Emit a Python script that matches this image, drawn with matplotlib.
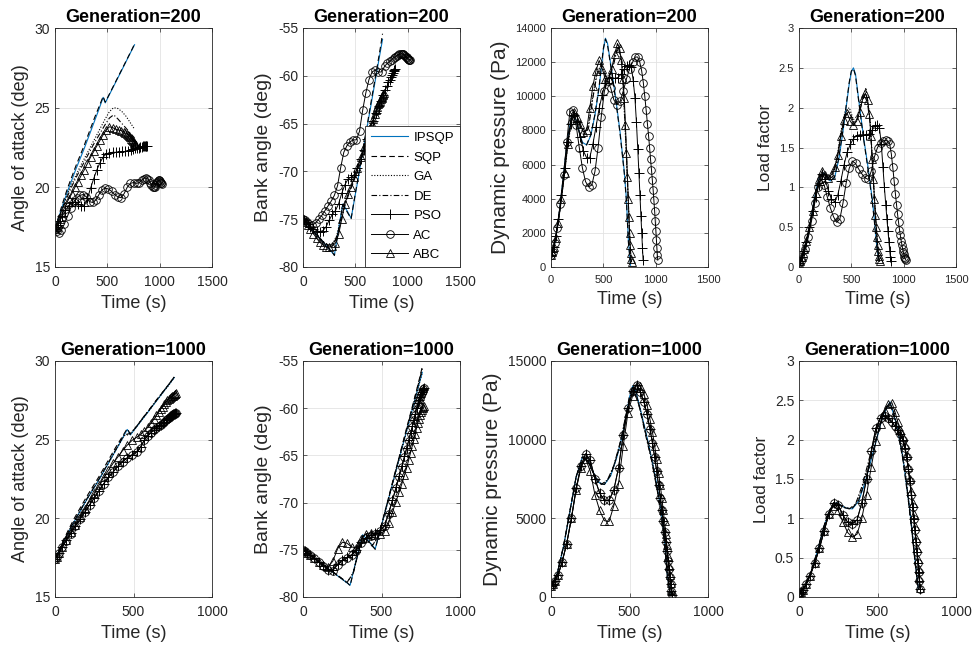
import matplotlib
matplotlib.use('Agg')
import matplotlib.pyplot as plt
from matplotlib.ticker import FuncFormatter

plt.rcParams['font.family'] = ['Liberation Sans', 'DejaVu Sans']

# ---------------- data ----------------
# IPSQP / SQP
t_ipsqp = [0, 40, 80, 120, 160, 200, 240, 280, 300, 340, 380, 420, 460, 480, 500, 520, 540, 580, 620, 660, 700, 720, 740, 760]
ipsqp_aoa = [17.4, 18.2, 19.0, 19.75, 20.45, 21.15, 21.8, 22.45, 22.8, 23.5, 24.2, 24.9, 25.65, 25.3, 25.56, 25.82, 26.08, 26.6, 27.12, 27.64, 28.17, 28.43, 28.69, 28.95]
ipsqp_bank = [-75.0, -75.5, -76.0, -76.5, -77.0, -77.5, -78.0, -78.5, -78.75, -76.0, -73.4, -74.1, -74.9, -73.65, -72.4, -71.2, -69.9, -67.4, -64.9, -62.4, -59.9, -58.65, -57.4, -56.2]
ipsqp_q = [600, 1500, 3200, 5400, 7600, 8900, 8600, 7700, 7300, 7150, 7700, 8900, 10500, 11600, 12700, 13400, 13100, 11500, 9800, 7900, 5600, 4000, 1500, 100]
ipsqp_n = [0.05, 0.15, 0.35, 0.65, 0.95, 1.15, 1.18, 1.1, 1.08, 1.12, 1.35, 1.7, 2.1, 2.3, 2.45, 2.5, 2.42, 2.0, 1.6, 1.25, 0.85, 0.6, 0.3, 0.1]
ipsqp_n_1000 = [0.05, 0.14, 0.33, 0.6, 0.9, 1.12, 1.2, 1.15, 1.13, 1.12, 1.22, 1.45, 1.75, 1.9, 2.05, 2.2, 2.33, 2.48, 2.2, 1.8, 1.2, 0.85, 0.45, 0.1]

sqp_aoa = [17.4, 18.3, 19.15, 19.95, 20.65, 21.35, 22.0, 22.65, 23.0, 23.7, 24.4, 25.05, 25.7, 25.35, 25.6, 25.86, 26.12, 26.64, 27.16, 27.68, 28.2, 28.46, 28.72, 29.0]
sqp_bank = [-75.0, -75.45, -75.95, -76.45, -76.95, -77.45, -77.95, -78.45, -78.8, -76.1, -73.5, -74.2, -74.95, -73.6, -72.3, -71.05, -69.8, -67.2, -64.7, -62.1, -59.6, -58.3, -57.0, -55.6]
sqp_q = [600, 1500, 3250, 5450, 7650, 8900, 8550, 7650, 7250, 7150, 7750, 8950, 10600, 11700, 12800, 13350, 13000, 11400, 9700, 7800, 5500, 3900, 1400, 100]
sqp_n = [0.05, 0.15, 0.36, 0.66, 0.96, 1.15, 1.17, 1.1, 1.08, 1.13, 1.37, 1.72, 2.12, 2.32, 2.46, 2.49, 2.4, 1.98, 1.58, 1.22, 0.82, 0.57, 0.28, 0.09]
sqp_n_1000 = [0.05, 0.14, 0.34, 0.61, 0.91, 1.12, 1.19, 1.15, 1.13, 1.13, 1.23, 1.47, 1.77, 1.92, 2.07, 2.22, 2.35, 2.47, 2.18, 1.77, 1.17, 0.82, 0.42, 0.09]

# GA / DE
t_ga = [0, 40, 80, 120, 160, 200, 240, 280, 320, 360, 400, 440, 480, 520, 560, 600, 640, 680, 720, 760]
ga200_aoa = [17.4, 18.15, 18.9, 19.6, 20.2, 20.75, 21.3, 21.8, 22.3, 22.8, 23.3, 23.8, 24.3, 24.75, 25.0, 24.95, 24.75, 24.45, 24.05, 23.65]
de200_aoa = [17.4, 18.1, 18.8, 19.45, 20.05, 20.6, 21.1, 21.6, 22.1, 22.6, 23.05, 23.5, 23.95, 24.35, 24.55, 24.3, 24.0, 23.7, 23.4, 23.1]
ga200_bank = [-75.0, -75.5, -76.1, -76.7, -77.2, -77.6, -77.8, -77.6, -76.8, -75.0, -73.2, -72.0, -71.0, -69.8, -68.5, -67.2, -66.0, -64.8, -63.8, -62.8]
de200_bank = [-75.0, -75.4, -75.9, -76.5, -77.0, -77.4, -77.7, -77.7, -77.0, -75.4, -73.6, -72.3, -71.2, -70.0, -68.8, -67.5, -66.3, -65.1, -64.0, -63.0]
ga200_q = [700, 1600, 3100, 5000, 7100, 8700, 8900, 8300, 7800, 8400, 10000, 11400, 11800, 11300, 11200, 12000, 12900, 11800, 6500, 500]
de200_q = [700, 1600, 3100, 5100, 7200, 8800, 9000, 8200, 7600, 8200, 9900, 11300, 11900, 11200, 11100, 11900, 13000, 12000, 6800, 400]
ga200_n = [0.05, 0.18, 0.4, 0.65, 0.92, 1.12, 1.18, 1.12, 1.15, 1.35, 1.7, 1.95, 2.0, 1.85, 1.9, 2.1, 2.25, 1.85, 0.9, 0.1]
de200_n = [0.05, 0.17, 0.39, 0.64, 0.91, 1.11, 1.17, 1.11, 1.13, 1.32, 1.66, 1.9, 1.96, 1.82, 1.86, 2.06, 2.2, 1.8, 0.85, 0.08]

ga1000_aoa = [17.4, 18.2, 19.0, 19.75, 20.45, 21.15, 21.8, 22.45, 23.15, 23.85, 24.55, 25.25, 25.35, 25.82, 26.35, 26.85, 27.4, 27.9, 28.4, 28.95]
de1000_aoa = [17.4, 18.25, 19.05, 19.8, 20.5, 21.2, 21.85, 22.5, 23.2, 23.9, 24.6, 25.3, 25.4, 25.85, 26.4, 26.9, 27.45, 27.95, 28.45, 29.0]
ga1000_bank = [-75.0, -75.5, -76.0, -76.5, -77.0, -77.5, -78.0, -78.5, -77.4, -74.7, -73.75, -74.5, -73.65, -71.2, -68.7, -66.2, -63.7, -61.2, -58.7, -56.2]
de1000_bank = [-75.0, -75.45, -75.95, -76.45, -76.95, -77.45, -77.95, -78.45, -77.5, -74.8, -73.8, -74.6, -73.6, -71.1, -68.6, -66.0, -63.5, -61.0, -58.4, -55.8]
ga1000_q = [600, 1500, 3200, 5400, 7600, 8900, 8600, 7700, 7150, 7400, 8300, 9700, 11600, 13400, 12300, 10500, 8800, 6700, 3800, 100]
de1000_q = [600, 1500, 3250, 5450, 7650, 8900, 8550, 7650, 7150, 7450, 8350, 9800, 11700, 13350, 12200, 10400, 8700, 6600, 3700, 100]
ga1000_n = [0.05, 0.14, 0.33, 0.6, 0.9, 1.12, 1.2, 1.15, 1.12, 1.17, 1.38, 1.68, 2.0, 2.28, 2.42, 2.4, 2.05, 1.55, 0.85, 0.1]
de1000_n = [0.05, 0.14, 0.34, 0.61, 0.91, 1.12, 1.19, 1.14, 1.12, 1.18, 1.4, 1.7, 2.02, 2.3, 2.43, 2.38, 2.02, 1.52, 0.82, 0.09]

# PSO / AC / ABC, Generation=200
t_pso200 = [0, 10, 25, 45, 70, 100, 130, 160, 190, 220, 250, 280, 310, 340, 370, 400, 430, 460, 490, 520, 550, 580, 610, 640, 670, 700, 725, 748, 768, 786, 802, 816, 829, 840, 850, 859, 867, 874, 880]
pso200_aoa = [17.4, 17.5, 17.65, 17.9, 18.2, 18.55, 18.85, 19.05, 19.05, 18.95, 18.85, 18.85, 19.3, 19.95, 20.55, 21.1, 21.55, 21.9, 22.1, 22.15, 22.2, 22.2, 22.2, 22.25, 22.25, 22.3, 22.35, 22.4, 22.45, 22.5, 22.5, 22.55, 22.55, 22.6, 22.6, 22.6, 22.6, 22.6, 22.6]
pso200_bank = [-75.0, -75.1, -75.25, -75.5, -75.8, -76.0, -76.2, -76.3, -76.2, -75.8, -75.1, -74.5, -74.1, -73.4, -72.3, -71.4, -70.8, -70.6, -70.4, -69.6, -68.7, -67.8, -66.6, -65.6, -64.7, -63.9, -63.2, -62.6, -62.0, -61.5, -61.1, -60.7, -60.4, -60.1, -59.9, -59.7, -59.5, -59.4, -59.3]
pso200_q = [700, 850, 1200, 1800, 2800, 4200, 5800, 7300, 8400, 8900, 8500, 7600, 6800, 6400, 6400, 7200, 8200, 9300, 10100, 10800, 11100, 11100, 11050, 11100, 11300, 11600, 11800, 11850, 11700, 10900, 9900, 8500, 6900, 5500, 4200, 3000, 2000, 1100, 400]
pso200_n = [0.05, 0.07, 0.12, 0.2, 0.32, 0.5, 0.7, 0.88, 1.03, 1.17, 1.1, 0.96, 0.85, 0.82, 0.9, 1.08, 1.28, 1.44, 1.54, 1.61, 1.65, 1.66, 1.66, 1.66, 1.67, 1.72, 1.77, 1.78, 1.75, 1.55, 1.25, 1.0, 0.78, 0.6, 0.45, 0.32, 0.2, 0.12, 0.08]

t_ac200 = [0, 15, 35, 60, 90, 120, 150, 180, 210, 240, 270, 300, 330, 360, 390, 420, 450, 480, 510, 540, 570, 600, 630, 660, 690, 720, 750, 780, 805, 828, 848, 866, 882, 896, 909, 921, 932, 942, 951, 960, 968, 976, 983, 990, 996, 1002, 1007, 1012, 1016, 1020]
ac200_aoa = [17.4, 17.25, 17.15, 17.3, 17.7, 18.2, 18.7, 19.1, 19.35, 19.5, 19.55, 19.4, 19.1, 19.05, 19.2, 19.55, 19.85, 19.95, 19.9, 19.75, 19.55, 19.4, 19.35, 19.6, 20.0, 20.25, 20.3, 20.25, 20.3, 20.45, 20.55, 20.6, 20.55, 20.45, 20.3, 20.15, 20.05, 20.0, 20.05, 20.15, 20.25, 20.35, 20.4, 20.45, 20.45, 20.4, 20.35, 20.3, 20.25, 20.2]
ac200_bank = [-75.0, -75.1, -75.3, -75.5, -75.6, -75.4, -75.0, -74.6, -74.1, -73.6, -73.1, -72.5, -71.5, -69.6, -68.0, -67.3, -66.9, -66.7, -66.7, -65.8, -63.6, -61.8, -60.4, -59.6, -59.4, -59.6, -59.6, -59.0, -58.7, -58.5, -58.3, -58.1, -58.0, -57.9, -57.8, -57.75, -57.7, -57.7, -57.7, -57.75, -57.8, -57.9, -58.0, -58.05, -58.1, -58.2, -58.25, -58.3, -58.3, -58.3]
ac200_q = [700, 900, 1400, 2300, 3700, 5400, 7300, 9100, 9200, 8300, 7000, 5800, 5000, 4700, 4800, 5600, 7000, 8800, 10300, 10900, 10500, 9800, 9500, 9700, 10300, 11000, 11600, 12000, 12300, 12300, 12000, 11500, 10800, 10000, 9200, 8400, 7700, 7000, 6300, 5700, 5100, 4500, 3900, 3300, 2700, 2100, 1600, 1100, 700, 400]
ac200_n = [0.05, 0.07, 0.12, 0.22, 0.38, 0.58, 0.8, 1.0, 1.1, 1.03, 0.88, 0.74, 0.63, 0.56, 0.6, 0.8, 1.05, 1.24, 1.33, 1.3, 1.23, 1.17, 1.12, 1.1, 1.2, 1.38, 1.5, 1.56, 1.58, 1.59, 1.58, 1.55, 1.42, 1.25, 1.08, 0.92, 0.78, 0.66, 0.56, 0.47, 0.4, 0.33, 0.28, 0.23, 0.19, 0.16, 0.13, 0.11, 0.1, 0.09]

t_abc200 = [0, 10, 25, 45, 70, 100, 130, 160, 190, 220, 250, 280, 310, 340, 370, 400, 430, 460, 490, 520, 550, 580, 610, 635, 655, 672, 687, 700, 711, 721, 730, 738, 745, 751, 757, 762, 766, 770]
abc200_aoa = [17.4, 17.5, 17.7, 18.0, 18.4, 18.85, 19.25, 19.6, 20.0, 20.35, 20.75, 21.1, 21.5, 21.9, 22.25, 22.6, 22.95, 23.3, 23.6, 23.8, 23.75, 23.65, 23.6, 23.55, 23.5, 23.4, 23.35, 23.3, 23.2, 23.15, 23.05, 23.0, 22.9, 22.85, 22.8, 22.75, 22.7, 22.65]
abc200_bank = [-75.0, -75.1, -75.3, -75.6, -76.0, -76.5, -77.0, -77.4, -77.7, -77.9, -77.9, -77.8, -77.5, -76.6, -75.0, -73.4, -72.4, -71.6, -70.6, -69.6, -68.5, -67.5, -66.4, -65.6, -65.0, -64.5, -64.0, -63.6, -63.3, -63.0, -62.8, -62.6, -62.4, -62.3, -62.1, -62.0, -61.9, -61.8]
abc200_q = [700, 850, 1150, 1700, 2600, 4000, 5500, 7200, 8600, 9100, 8800, 8400, 7900, 8000, 9300, 10600, 11500, 12100, 11600, 11000, 11000, 11600, 12500, 13100, 12800, 12100, 11000, 9900, 8300, 6700, 5300, 4000, 2900, 2000, 1300, 800, 450, 300]
abc200_n = [0.05, 0.08, 0.13, 0.22, 0.33, 0.5, 0.7, 0.93, 1.1, 1.2, 1.16, 1.12, 1.16, 1.25, 1.4, 1.65, 1.84, 1.93, 1.83, 1.78, 1.83, 1.95, 2.12, 2.18, 2.1, 1.92, 1.65, 1.35, 1.1, 0.85, 0.65, 0.5, 0.38, 0.28, 0.2, 0.14, 0.1, 0.07]

# PSO / AC / ABC, Generation=1000
t_meta1000 = [0, 10, 25, 45, 70, 100, 130, 160, 190, 220, 250, 280, 310, 340, 370, 400, 430, 460, 490, 520, 545, 570, 592, 612, 630, 646, 660, 673, 685, 696, 706, 715, 723, 731, 738, 745, 751, 757, 762, 767, 771]
pso1000_aoa = [17.4, 17.55, 17.8, 18.15, 18.6, 19.05, 19.5, 19.95, 20.4, 20.85, 21.3, 21.75, 22.2, 22.6, 22.95, 23.3, 23.6, 23.85, 24.05, 24.25, 24.55, 25.0, 25.25, 25.45, 25.6, 25.75, 25.85, 25.95, 26.05, 26.15, 26.25, 26.3, 26.4, 26.45, 26.5, 26.55, 26.6, 26.65, 26.65, 26.7, 26.7]
ac1000_aoa = [17.4, 17.55, 17.8, 18.15, 18.55, 19.0, 19.5, 19.95, 20.4, 20.85, 21.3, 21.75, 22.2, 22.6, 22.95, 23.3, 23.6, 23.85, 24.0, 24.2, 24.5, 25.0, 25.25, 25.45, 25.6, 25.75, 25.85, 25.95, 26.05, 26.15, 26.25, 26.3, 26.4, 26.45, 26.5, 26.55, 26.6, 26.65, 26.65, 26.7, 26.7]
abc1000_aoa = [17.4, 17.55, 17.8, 18.15, 18.6, 19.1, 19.6, 20.1, 20.6, 21.1, 21.6, 22.1, 22.6, 23.05, 23.5, 23.9, 24.3, 24.65, 24.95, 25.15, 25.35, 25.55, 25.8, 26.05, 26.3, 26.55, 26.75, 26.95, 27.1, 27.25, 27.4, 27.5, 27.6, 27.65, 27.7, 27.75, 27.8, 27.85, 27.9, 27.9, 27.95]
pso1000_bank = [-75.0, -75.1, -75.3, -75.55, -75.9, -76.3, -76.7, -77.1, -77.1, -76.5, -76.1, -75.8, -75.5, -75.0, -74.2, -73.7, -73.4, -73.2, -72.9, -72.4, -71.1, -69.7, -68.4, -67.2, -66.1, -65.1, -64.2, -63.4, -62.6, -61.9, -61.2, -60.6, -60.0, -59.5, -59.1, -58.8, -58.5, -58.3, -58.1, -57.95, -57.85]
ac1000_bank = [-75.0, -75.1, -75.3, -75.55, -75.9, -76.3, -76.7, -77.1, -77.2, -76.6, -76.2, -75.9, -75.6, -75.1, -74.3, -73.8, -73.5, -73.3, -73.0, -72.5, -71.2, -69.8, -68.5, -67.3, -66.2, -65.2, -64.3, -63.5, -62.7, -62.0, -61.3, -60.7, -60.1, -59.6, -59.2, -58.9, -58.6, -58.4, -58.2, -58.0, -57.9]
abc1000_bank = [-75.0, -75.1, -75.3, -75.55, -75.9, -76.3, -76.6, -76.8, -76.2, -74.9, -74.2, -74.3, -74.7, -74.8, -73.9, -73.3, -73.2, -73.4, -73.3, -73.0, -72.2, -71.0, -69.9, -68.9, -68.0, -67.1, -66.3, -65.5, -64.7, -64.0, -63.3, -62.7, -62.1, -61.6, -61.1, -60.7, -60.4, -60.2, -60.0, -59.9, -59.8]
pso1000_q = [690, 800, 1000, 1400, 2200, 3400, 5000, 6900, 8300, 9100, 8700, 7500, 6600, 6150, 6150, 6800, 8200, 10300, 12000, 13100, 13500, 13000, 12400, 11600, 10700, 9800, 8900, 8000, 7100, 6300, 5500, 4800, 4150, 3500, 2900, 2300, 1800, 1250, 800, 400, 100]
ac1000_q = [690, 800, 1000, 1400, 2200, 3400, 5000, 6900, 8300, 9100, 8700, 7500, 6600, 6150, 6150, 6800, 8200, 10300, 12000, 13100, 13500, 13000, 12400, 11600, 10700, 9800, 8900, 8000, 7100, 6300, 5500, 4800, 4150, 3500, 2900, 2300, 1800, 1250, 800, 400, 100]
abc1000_q = [690, 800, 1000, 1400, 2200, 3400, 5000, 6800, 8200, 8800, 8000, 6500, 5500, 4850, 4800, 5800, 7200, 9600, 11700, 12800, 13450, 13400, 12900, 12200, 11300, 10500, 9600, 8800, 7900, 7100, 6300, 5500, 4800, 4000, 3300, 2600, 2000, 1400, 900, 450, 100]
pso1000_n = [0.05, 0.06, 0.09, 0.16, 0.27, 0.43, 0.62, 0.84, 1.06, 1.2, 1.17, 1.04, 0.95, 0.93, 0.98, 1.2, 1.5, 1.85, 2.15, 2.28, 2.3, 2.27, 2.22, 2.17, 2.12, 2.07, 2.0, 1.9, 1.78, 1.63, 1.47, 1.3, 1.15, 0.99, 0.85, 0.7, 0.57, 0.43, 0.32, 0.2, 0.1]
ac1000_n = [0.05, 0.06, 0.09, 0.16, 0.27, 0.43, 0.62, 0.84, 1.06, 1.2, 1.17, 1.04, 0.95, 0.93, 0.98, 1.2, 1.5, 1.85, 2.15, 2.28, 2.3, 2.27, 2.22, 2.17, 2.12, 2.07, 2.0, 1.9, 1.78, 1.63, 1.47, 1.3, 1.15, 0.99, 0.85, 0.7, 0.57, 0.43, 0.32, 0.2, 0.1]
abc1000_n = [0.05, 0.06, 0.09, 0.16, 0.27, 0.43, 0.62, 0.84, 1.05, 1.16, 1.1, 0.95, 0.82, 0.76, 0.8, 1.0, 1.3, 1.65, 1.98, 2.2, 2.36, 2.45, 2.47, 2.35, 2.22, 2.12, 2.03, 1.93, 1.8, 1.65, 1.5, 1.35, 1.2, 1.05, 0.9, 0.75, 0.62, 0.48, 0.36, 0.24, 0.12]

names = ['IPSQP', 'SQP', 'GA', 'DE', 'PSO', 'AC', 'ABC']

# ---------------- styles ----------------
blue = '#0072BD'
dark = '#262626'
styles = [
    dict(color=blue, lw=0.8),
    dict(color='k', lw=0.8, ls=(0, (5, 3))),
    dict(color='k', lw=0.8, ls=(0, (1, 1.5))),
    dict(color='k', lw=0.8, ls=(0, (5, 2, 1, 2))),
    dict(color='k', lw=0.7, marker='+', ms=7, mew=0.7),
    dict(color='k', lw=0.7, marker='o', ms=5.5, mfc='none', mew=0.6),
    dict(color='k', lw=0.7, marker='^', ms=5.5, mfc='none', mew=0.6),
]

W, H = 976, 654
fig = plt.figure(figsize=(W / 100, H / 100), dpi=100)
lefts = [55, 303, 551, 799]
rows = [(28, 267), (361, 597)]

def make_ax(col, row):
    top, bot = rows[row]
    return fig.add_axes([lefts[col] / W, 1 - bot / H, 157 / W, (bot - top) / H])

def style(ax, xmax, xticks, ylim, yticks, ylabel, title, tfs, lfs):
    ax.set_xlim(0, xmax)
    ax.set_ylim(*ylim)
    ax.set_xticks(xticks)
    ax.set_yticks(yticks)
    fmt = FuncFormatter(lambda v, p: '%g' % v)
    ax.xaxis.set_major_formatter(fmt)
    ax.yaxis.set_major_formatter(fmt)
    ax.grid(True, color='#e3e3e3', lw=0.6)
    ax.set_axisbelow(True)
    ax.tick_params(direction='in', top=True, right=True, length=3, width=0.5,
                   colors=dark, labelsize=tfs)
    ax.tick_params(axis='x', pad=6)
    for s in ax.spines.values():
        s.set_color(dark)
        s.set_linewidth(0.6)
    ax.set_xlabel('Time (s)', fontsize=13, color=dark)
    ax.set_ylabel(ylabel, fontsize=lfs, color=dark)
    ax.set_title(title, fontsize=13, fontweight='bold', pad=4)

gen200 = {
    'aoa': [(t_ipsqp, ipsqp_aoa), (t_ipsqp, sqp_aoa), (t_ga, ga200_aoa), (t_ga, de200_aoa),
            (t_pso200, pso200_aoa), (t_ac200, ac200_aoa), (t_abc200, abc200_aoa)],
    'bank': [(t_ipsqp, ipsqp_bank), (t_ipsqp, sqp_bank), (t_ga, ga200_bank), (t_ga, de200_bank),
             (t_pso200, pso200_bank), (t_ac200, ac200_bank), (t_abc200, abc200_bank)],
    'q': [(t_ipsqp, ipsqp_q), (t_ipsqp, sqp_q), (t_ga, ga200_q), (t_ga, de200_q),
          (t_pso200, pso200_q), (t_ac200, ac200_q), (t_abc200, abc200_q)],
    'n': [(t_ipsqp, ipsqp_n), (t_ipsqp, sqp_n), (t_ga, ga200_n), (t_ga, de200_n),
          (t_pso200, pso200_n), (t_ac200, ac200_n), (t_abc200, abc200_n)],
}
gen1000 = {
    'aoa': [(t_ipsqp, ipsqp_aoa), (t_ipsqp, sqp_aoa), (t_ga, ga1000_aoa), (t_ga, de1000_aoa),
            (t_meta1000, pso1000_aoa), (t_meta1000, ac1000_aoa), (t_meta1000, abc1000_aoa)],
    'bank': [(t_ipsqp, ipsqp_bank), (t_ipsqp, sqp_bank), (t_ga, ga1000_bank), (t_ga, de1000_bank),
             (t_meta1000, pso1000_bank), (t_meta1000, ac1000_bank), (t_meta1000, abc1000_bank)],
    'q': [(t_ipsqp, ipsqp_q), (t_ipsqp, sqp_q), (t_ga, ga1000_q), (t_ga, de1000_q),
          (t_meta1000, pso1000_q), (t_meta1000, ac1000_q), (t_meta1000, abc1000_q)],
    'n': [(t_ipsqp, ipsqp_n_1000), (t_ipsqp, sqp_n_1000), (t_ga, ga1000_n), (t_ga, de1000_n),
          (t_meta1000, pso1000_n), (t_meta1000, ac1000_n), (t_meta1000, abc1000_n)],
}

panels = [
    ('aoa', (15, 30), [15, 20, 25, 30], 'Angle of attack (deg)', 13),
    ('bank', (-80, -55), [-80, -75, -70, -65, -60, -55], 'Bank angle (deg)', 14),
    ('q', None, None, 'Dynamic pressure (Pa)', 15),
    ('n', (0, 3), [0, 0.5, 1, 1.5, 2, 2.5, 3], 'Load factor', 12.5),
]

for row, (gen, data) in enumerate([('200', gen200), ('1000', gen1000)]):
    for col, (key, ylim, yticks, ylabel, lfs) in enumerate(panels):
        ax = make_ax(col, row)
        lines = []
        for (t, v), kw in zip(data[key], styles):
            ln, = ax.plot(t, v, **kw)
            lines.append(ln)
        if key == 'q':
            ylim = (0, 14000) if row == 0 else (0, 15000)
            yticks = list(range(0, 14001, 2000)) if row == 0 else [0, 5000, 10000, 15000]
        if row == 0:
            xmax, xticks = 1500, [0, 500, 1000, 1500]
        else:
            xmax, xticks = 1000, [0, 500, 1000]
        tfs = 8 if (row == 0 and key in ('q', 'n')) else 10
        style(ax, xmax, xticks, ylim, yticks, ylabel, 'Generation=' + gen, tfs, lfs)
        if row == 0 and key == 'bank':
            leg = ax.legend(lines, names, loc='lower right', bbox_to_anchor=(1.0, 0.0),
                            borderaxespad=0, fontsize=9.5, handlelength=2.8,
                            handletextpad=0.4, labelspacing=0.55, fancybox=False,
                            framealpha=1, edgecolor=dark, borderpad=0.45)
            leg.get_frame().set_linewidth(0.6)

fig.savefig('out.png', dpi=100)
